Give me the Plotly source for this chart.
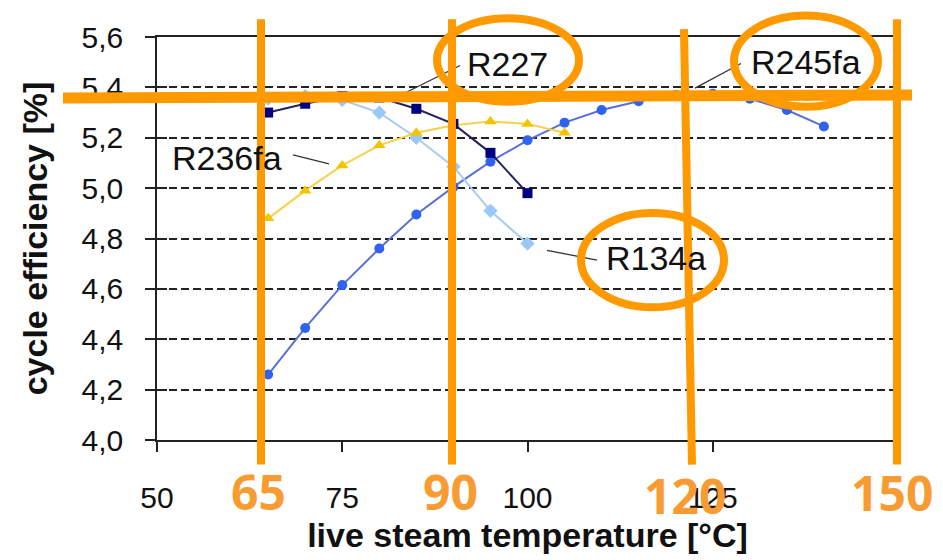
import plotly.graph_objects as go

# ---------------- data ----------------
temps_r227 = [65, 70, 75, 80, 85, 90, 95, 100]
eff_r227 = [5.30, 5.335, 5.365, 5.36, 5.315, 5.255, 5.14, 4.98]

temps_r134a = [65, 70, 75, 80, 85, 90, 95, 100]
eff_r134a = [5.355, 5.365, 5.35, 5.30, 5.20, 5.085, 4.91, 4.78]

temps_r236fa = [65, 70, 75, 80, 85, 90, 95, 100, 105]
eff_r236fa = [4.88, 4.99, 5.09, 5.17, 5.22, 5.25, 5.265, 5.255, 5.22]

temps_r245fa = [65, 70, 75, 80, 85, 90, 95, 100, 105, 110, 115, 120, 125, 130, 135, 140]
eff_r245fa = [4.26, 4.445, 4.615, 4.76, 4.895, 5.005, 5.105, 5.19, 5.26, 5.31,
              5.345, 5.37, 5.375, 5.355, 5.31, 5.245]

x_tick_vals = [50, 75, 100, 125, 150]
x_tick_text = ["50", "75", "100", "125", ""]
y_tick_vals = [4.0, 4.2, 4.4, 4.6, 4.8, 5.0, 5.2, 5.4, 5.6]

series_names = ["R227", "R134a", "R236fa", "R245fa"]
highlight_labels = ["65", "90", "120", "150"]

# ---------------- layout geometry ----------------
# The page body has an 8px default margin, so the figure is made 8px smaller
# and all page-pixel positions below are given in window coordinates.
BODY = 8
WIN_W, WIN_H = 943, 560
W, H = WIN_W - BODY, WIN_H - BODY
PLOT_L, PLOT_R, PLOT_T, PLOT_B = 157, 898, 33, 443   # window pixels
PW, PH = PLOT_R - PLOT_L, PLOT_B - PLOT_T


def px(x):
    return (x - PLOT_L) / PW


def py(y):
    return (PLOT_B - y) / PH


ORANGE = "#FF9900"
ORANGE_TXT = "#F89B32"

fig = go.Figure()

fig.add_trace(go.Scatter(
    x=temps_r245fa, y=eff_r245fa, name=series_names[3], mode="lines+markers",
    line=dict(color="#5B6FD8", width=2),
    marker=dict(symbol="circle", size=10, color="#2F62F0"),
))
fig.add_trace(go.Scatter(
    x=temps_r134a, y=eff_r134a, name=series_names[1], mode="lines+markers",
    line=dict(color="#A9CBEF", width=2),
    marker=dict(symbol="diamond", size=11, color="#9CC8F5"),
))
fig.add_trace(go.Scatter(
    x=temps_r236fa, y=eff_r236fa, name=series_names[2], mode="lines+markers",
    line=dict(color="#F4D24A", width=2),
    marker=dict(symbol="triangle-up", size=11, color="#F5C400"),
))
fig.add_trace(go.Scatter(
    x=temps_r227, y=eff_r227, name=series_names[0], mode="lines+markers",
    line=dict(color="#23235E", width=2),
    marker=dict(symbol="square", size=10, color="#000080"),
))
# helper trace for the inner half of the y-axis cross ticks
fig.add_trace(go.Scatter(x=[None], y=[None], yaxis="y2", showlegend=False,
                         hoverinfo="skip"))

shapes = []
# leader lines from the series labels
for (x0, y0, x1, y1) in [(405, 90, 460, 62), (293, 153, 329, 162),
                         (547, 250, 597, 260), (695, 85, 741, 60)]:
    shapes.append(dict(type="line", xref="paper", yref="paper",
                       x0=px(x0), y0=py(y0), x1=px(x1), y1=py(y1),
                       line=dict(color="#333333", width=1.3), layer="above"))

# orange hand-drawn overlay
for (x0, y0, x1, y1) in [(261, 15, 261, 468), (452, 15, 452, 468),
                         (684, 25, 692, 468), (897, 15, 897, 468)]:
    shapes.append(dict(type="line", xref="paper", yref="paper",
                       x0=px(x0), y0=py(y0), x1=px(x1), y1=py(y1),
                       line=dict(color=ORANGE, width=8), layer="above"))
shapes.append(dict(type="line", xref="paper", yref="paper",
                   x0=px(63), y0=py(95), x1=px(912), y1=py(92),
                   line=dict(color=ORANGE, width=11), layer="above"))
for (x0, y0, x1, y1) in [(437, 14, 579, 99), (734, 11, 878, 104),
                         (581, 212, 724, 308)]:
    shapes.append(dict(type="circle", xref="paper", yref="paper",
                       x0=px(x0), y0=py(y1), x1=px(x1), y1=py(y0),
                       line=dict(color=ORANGE, width=8), layer="above"))

annotations = []
label_pos = {"R227": (507, 60), "R245fa": (806, 58), "R134a": (656, 258),
             "R236fa": (227, 156)}
for name in series_names:
    x, y = label_pos[name]
    annotations.append(dict(text=name, xref="paper", yref="paper",
                            x=px(x), y=py(y), xanchor="center", yanchor="middle",
                            showarrow=False,
                            font=dict(family="Liberation Sans", size=34,
                                      color="#111111")))

hl_pos = [(258, 495), (450, 495), (685, 499), (892, 496)]
for txt, (x, y) in zip(highlight_labels, hl_pos):
    annotations.append(dict(text=txt, xref="paper", yref="paper",
                            x=px(x), y=py(y), xanchor="center", yanchor="middle",
                            showarrow=False,
                            font=dict(family="Open Sans", size=48, weight=700,
                                      color=ORANGE_TXT)))

axis_font = dict(family="Liberation Sans", size=30, color="#111111")
title_font = dict(family="Liberation Sans", size=34, color="#111111", weight=700)

fig.update_layout(
    width=W, height=H,
    margin=dict(l=PLOT_L - BODY, r=WIN_W - PLOT_R, t=PLOT_T - BODY,
                b=WIN_H - PLOT_B),
    paper_bgcolor="white", plot_bgcolor="white",
    separators=", ",
    showlegend=False,
    shapes=shapes,
    annotations=annotations,
    xaxis=dict(
        range=[50, 150], tickvals=x_tick_vals, ticktext=x_tick_text,
        ticks="outside", ticklen=10, tickwidth=1.5, tickcolor="#222222",
        showline=True, linecolor="#222222", linewidth=1.5, mirror=True,
        showgrid=False, zeroline=False,
        tickfont=axis_font, ticklabelstandoff=20,
        title=dict(text="live steam temperature [\u00b0C]", font=title_font,
                   standoff=10),
    ),
    yaxis=dict(
        range=[4.0, 5.6], tickvals=y_tick_vals, tickformat=".1f",
        ticks="outside", ticklen=10, tickwidth=1.5, tickcolor="#222222",
        showline=True, linecolor="#222222", linewidth=1.5, mirror=True,
        showgrid=True, gridcolor="#222222", gridwidth=1.5, griddash="8px,4px",
        zeroline=False,
        tickfont=axis_font, ticklabelstandoff=16,
        title=dict(text="cycle efficiency [%]", font=title_font, standoff=24),
    ),
    yaxis2=dict(
        range=[4.0, 5.6], tickvals=y_tick_vals, overlaying="y", side="left",
        anchor="x", ticks="inside", ticklen=10, tickwidth=1.5,
        tickcolor="#222222", showticklabels=False, showgrid=False,
        showline=False, zeroline=False,
    ),
)

fig.write_html("out.html")
